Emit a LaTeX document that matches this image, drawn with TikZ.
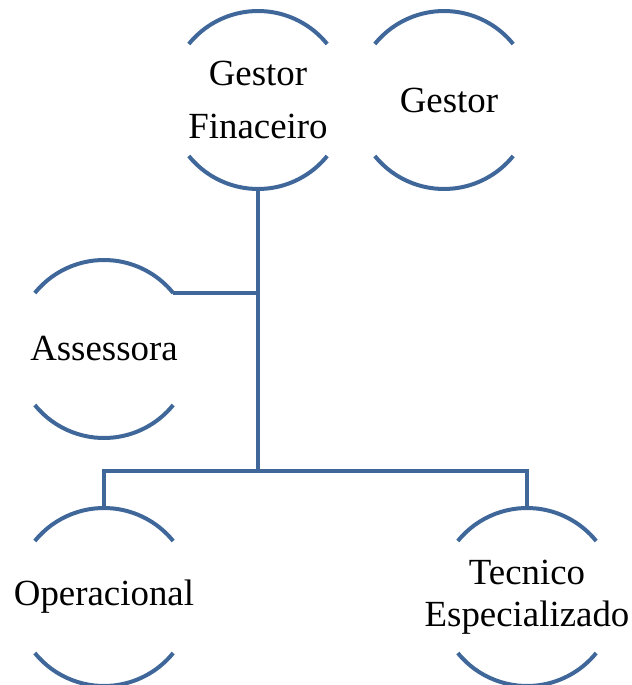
\documentclass[tikz,border=0pt]{standalone}
\usepackage{fontspec}
\setmainfont{Liberation Serif}
\usetikzlibrary{positioning}
\definecolor{orgblue}{RGB}{63,103,154}
% top and bottom arcs of a role circle
\newcommand{\rolearcs}[1]{%
\draw[Arcs] (#1.141) arc[start angle=-141,end angle=-39,radius=89];
\draw[Arcs] (#1.219) arc[start angle=-219,end angle=-321,radius=89];}

\begin{document}
\begin{tikzpicture}[
x=1bp, y=-1bp,
Role/.style={circle,minimum size=178bp,inner sep=0pt,outer sep=0pt},
Caption/.style={align=center,inner sep=0pt,font=\rmfamily\fontsize{37}{44}\selectfont},
Arcs/.style={draw=orgblue,line width=4bp},
Link/.style={draw=orgblue,line width=4bp}
]
\useasboundingbox (0,0) rectangle (632,685);

\node[Role,label={[Caption,font=\rmfamily\fontsize{37}{54}\selectfont]center:Gestor\\Finaceiro}] (fin) at (258,100) {};
\node[Role,label={[Caption,xshift=5bp]center:Gestor}] (gest) at (444,100) {};
\node[Role,label={[Caption]center:Assessora}] (ass) at (104,349) {};
\node[Role,label={[Caption]center:Operacional}] (ops) at (104,597) {};
\node[Role,label={[Caption,font=\rmfamily\fontsize{37}{42}\selectfont]center:Tecnico\\Especializado}] (tec) at (527,597) {};

\rolearcs{fin}
\rolearcs{gest}
\rolearcs{ass}
\rolearcs{ops}
\rolearcs{tec}

\coordinate (split) at (258,471);

\draw[Link] (fin.south) -- (split);
\draw[Link] (ass.39) -- (ass.39 -| split);
\draw[Link] (ops.north) |- (split) -| (tec.north);

\end{tikzpicture}
\end{document}
